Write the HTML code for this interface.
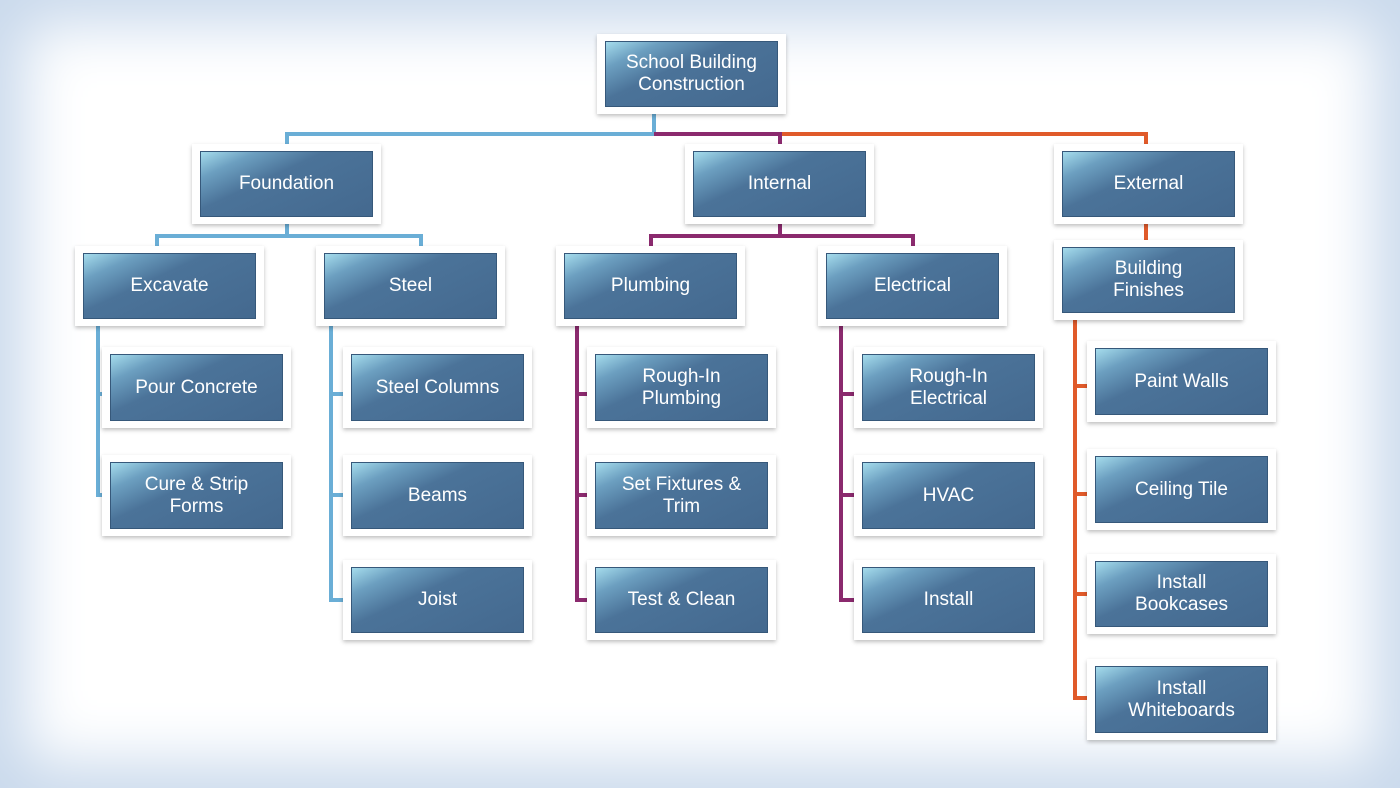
<!DOCTYPE html>
<html><head><style>
body{margin:0;width:1400px;height:788px;overflow:hidden;background:#fff;}
#bg{position:absolute;left:0;top:0;width:1400px;height:788px;background:#fff;box-shadow:inset 0 0 60px 25px #c9d9ec;}
.n{position:absolute;width:189px;height:80px;background:#fff;box-shadow:0 2px 4px rgba(0,0,0,.25);box-sizing:border-box;}
.n div{position:absolute;left:8px;top:7px;right:8px;bottom:7px;background:linear-gradient(155deg,#a5dcec 0%,#6c9fc0 18%,#4b7399 40%,#44698f 100%);border:1px solid #36587a;display:flex;align-items:center;justify-content:center;text-align:center;color:#fff;font-family:"Liberation Sans",sans-serif;font-size:19px;line-height:22px;}
.l{position:absolute;}
.b{background:#6aaed6}.p{background:#8b2a6e}.o{background:#e05a2a}
</style></head><body><div id="bg"></div>
<!-- lines -->
<div class="l b" style="left:652px;top:114px;width:4px;height:22px"></div>
<div class="l b" style="left:285px;top:132px;width:371px;height:4px"></div>
<div class="l p" style="left:654px;top:132px;width:128px;height:4px"></div>
<div class="l o" style="left:780px;top:132px;width:368px;height:4px"></div>
<div class="l b" style="left:285px;top:132px;width:4px;height:14px"></div>
<div class="l p" style="left:778px;top:132px;width:4px;height:14px"></div>
<div class="l o" style="left:1144px;top:132px;width:4px;height:14px"></div>
<div class="l b" style="left:285px;top:224px;width:4px;height:14px"></div>
<div class="l b" style="left:155px;top:234px;width:268px;height:4px"></div>
<div class="l b" style="left:155px;top:234px;width:4px;height:14px"></div>
<div class="l b" style="left:419px;top:234px;width:4px;height:14px"></div>
<div class="l p" style="left:778px;top:224px;width:4px;height:14px"></div>
<div class="l p" style="left:649px;top:234px;width:266px;height:4px"></div>
<div class="l p" style="left:649px;top:234px;width:4px;height:14px"></div>
<div class="l p" style="left:911px;top:234px;width:4px;height:14px"></div>
<div class="l o" style="left:1144px;top:224px;width:4px;height:18px"></div>
<div class="l b" style="left:96px;top:326px;width:4px;height:171px"></div>
<div class="l b" style="left:96px;top:392px;width:8px;height:4px"></div>
<div class="l b" style="left:96px;top:493px;width:8px;height:4px"></div>
<div class="l b" style="left:329px;top:326px;width:4px;height:276px"></div>
<div class="l b" style="left:329px;top:392px;width:16px;height:4px"></div>
<div class="l b" style="left:329px;top:493px;width:16px;height:4px"></div>
<div class="l b" style="left:329px;top:598px;width:16px;height:4px"></div>
<div class="l p" style="left:575px;top:326px;width:4px;height:276px"></div>
<div class="l p" style="left:575px;top:392px;width:14px;height:4px"></div>
<div class="l p" style="left:575px;top:493px;width:14px;height:4px"></div>
<div class="l p" style="left:575px;top:598px;width:14px;height:4px"></div>
<div class="l p" style="left:839px;top:326px;width:4px;height:276px"></div>
<div class="l p" style="left:839px;top:392px;width:17px;height:4px"></div>
<div class="l p" style="left:839px;top:493px;width:17px;height:4px"></div>
<div class="l p" style="left:839px;top:598px;width:17px;height:4px"></div>
<div class="l o" style="left:1073px;top:320px;width:4px;height:380px"></div>
<div class="l o" style="left:1073px;top:384px;width:16px;height:4px"></div>
<div class="l o" style="left:1073px;top:492px;width:16px;height:4px"></div>
<div class="l o" style="left:1073px;top:592px;width:16px;height:4px"></div>
<div class="l o" style="left:1073px;top:696px;width:16px;height:4px"></div>
<!-- nodes -->
<div class="n" style="left:597px;top:34px"><div>School Building<br>Construction</div></div>
<div class="n" style="left:192px;top:144px"><div>Foundation</div></div>
<div class="n" style="left:685px;top:144px"><div>Internal</div></div>
<div class="n" style="left:1054px;top:144px"><div>External</div></div>
<div class="n" style="left:75px;top:246px"><div>Excavate</div></div>
<div class="n" style="left:316px;top:246px"><div>Steel</div></div>
<div class="n" style="left:556px;top:246px"><div>Plumbing</div></div>
<div class="n" style="left:818px;top:246px"><div>Electrical</div></div>
<div class="n" style="left:1054px;top:240px"><div>Building<br>Finishes</div></div>
<div class="n" style="left:102px;top:347px;height:81px"><div>Pour Concrete</div></div>
<div class="n" style="left:102px;top:455px;height:81px"><div>Cure &amp; Strip<br>Forms</div></div>
<div class="n" style="left:343px;top:347px;height:81px"><div>Steel Columns</div></div>
<div class="n" style="left:343px;top:455px;height:81px"><div>Beams</div></div>
<div class="n" style="left:343px;top:560px"><div>Joist</div></div>
<div class="n" style="left:587px;top:347px;height:81px"><div>Rough-In<br>Plumbing</div></div>
<div class="n" style="left:587px;top:455px;height:81px"><div>Set Fixtures &amp;<br>Trim</div></div>
<div class="n" style="left:587px;top:560px"><div>Test &amp; Clean</div></div>
<div class="n" style="left:854px;top:347px;height:81px"><div>Rough-In<br>Electrical</div></div>
<div class="n" style="left:854px;top:455px;height:81px"><div>HVAC</div></div>
<div class="n" style="left:854px;top:560px"><div>Install</div></div>
<div class="n" style="left:1087px;top:341px;height:81px"><div>Paint Walls</div></div>
<div class="n" style="left:1087px;top:449px;height:81px"><div>Ceiling Tile</div></div>
<div class="n" style="left:1087px;top:554px"><div>Install<br>Bookcases</div></div>
<div class="n" style="left:1087px;top:659px;height:81px"><div>Install<br>Whiteboards</div></div>
</body></html>
